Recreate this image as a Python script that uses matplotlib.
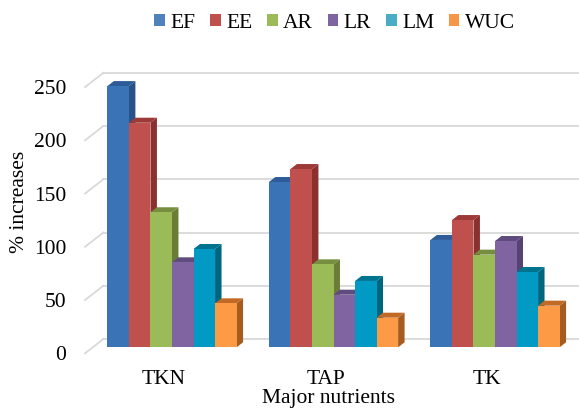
import matplotlib.pyplot as plt
import numpy as np
from matplotlib.patches import Polygon, Patch

plt.rcParams['font.family'] = ['Liberation Serif', 'DejaVu Serif']
plt.rcParams['font.size'] = 15.5

nutrients = ['TKN', 'TAP', 'TK']
series = ['EF', 'EE', 'AR', 'LR', 'LM', 'WUC']
EF = [245.3, 155.2, 100.8]
EE = [210.9, 167.4, 119.5]
AR = [126.8, 77.9, 87.0]
LR = [79.8, 49.4, 99.8]
LM = [92.3, 62.3, 70.7]
WUC = [41.3, 27.8, 39.1]
values = [EF, EE, AR, LR, LM, WUC]

# front / side / top shades for the fake 3d columns
front = ['#3a73b6', '#c0504d', '#9bbb59', '#8064a2', '#009ac5', '#fd9a45']
side = ['#29528a', '#8a302e', '#6a7d36', '#574373', '#00667f', '#a65c1e']
top = ['#2d5c98', '#9d3936', '#768e3e', '#604b7e', '#00748f', '#c06a26']
legend_cols = ['#4f81bd', '#c0504d', '#9bbb59', '#8064a2', '#4bacc6', '#f79646']

# depth offsets (data units): column depth, back wall, front plane
ddx, ddy = 0.040, 4.7
bdx, bdy = 0.064, 7.8
fdx, fdy = -0.0495, -5.63
xw = -0.489          # wall position, column front plane coords
ticks = np.arange(0, 251, 50)

fig = plt.figure(figsize=(5.79, 4.09), dpi=100)
ax = fig.add_axes([85 / 579, 0.1362, 494 / 579, 0.6968])
ax.set_xlim(-0.5387, 2.520)
ax.set_ylim(-5.63, 262)

grid_c = '#d9d9d9'
for v in ticks:
    ax.plot([xw + bdx, 2.520], [v + bdy, v + bdy], color=grid_c, lw=1.3, zorder=1, clip_on=False)
    ax.plot([xw + fdx, xw + bdx], [v + fdy, v + bdy], color=grid_c, lw=1.3, zorder=1, clip_on=False)

x = np.arange(len(nutrients))
w = 0.8 / len(series)
z = 2
for i in range(len(nutrients)):
    for j, s in enumerate(series):
        h = values[j][i]
        left = x[i] - 0.4 + j * w
        right = left + w
        ax.add_patch(Polygon([(right, 0), (right + ddx, ddy), (right + ddx, h + ddy), (right, h)],
                             closed=True, facecolor=side[j], edgecolor='none', zorder=z))
        ax.add_patch(Polygon([(left, h), (right, h), (right + ddx, h + ddy), (left + ddx, h + ddy)],
                             closed=True, facecolor=top[j], edgecolor='none', zorder=z))
        ax.bar(left, h, width=w, align='edge', color=front[j], edgecolor='none', zorder=z + 1)
        z += 2

ax.set_yticks(ticks + fdy, [str(t) for t in ticks])
ax.set_xticks(x + fdx, nutrients)
ax.tick_params(axis='y', length=0, pad=13.5)
ax.tick_params(axis='x', length=0, pad=12)
for sp in ax.spines.values():
    sp.set_visible(False)
fig.text(328.5 / 579, 1 - 399 / 409, 'Major nutrients', ha='center', va='center')
fig.text(20 / 579, 1 - 202 / 409, '% increases', rotation=90, ha='center', va='center')

handles = [Patch(facecolor=c, edgecolor='none') for c in legend_cols]
fig.legend(handles, series, loc='center', bbox_to_anchor=(334.5 / 579, 1 - 23.3 / 409),
           ncol=6, frameon=False, handlelength=0.5, handleheight=0.5,
           handletextpad=0.25, columnspacing=0.68, borderaxespad=0)

fig.savefig('out.png', dpi=100)
